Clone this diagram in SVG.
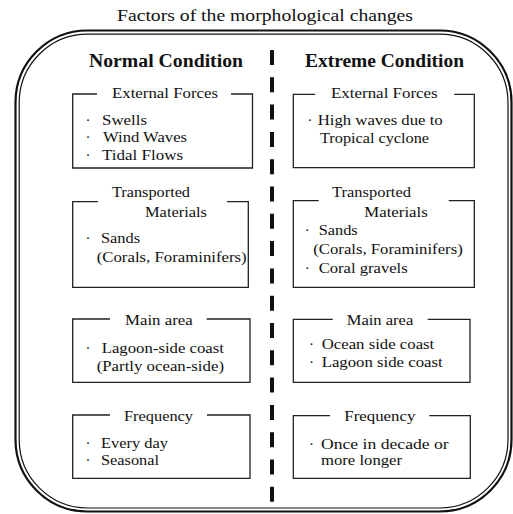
<svg xmlns="http://www.w3.org/2000/svg" width="513" height="514" viewBox="0 0 513 514">
<style>
.t{font-family:"Liberation Serif","Times New Roman",serif;font-size:15px;fill:#111}
.b{font-family:"Liberation Serif","Times New Roman",serif;font-size:18px;font-weight:bold;fill:#111}
.ttl{font-family:"Liberation Serif","Times New Roman",serif;font-size:17px;fill:#111}
.box{fill:none;stroke:#222;stroke-width:1.3}
</style>
<rect width="513" height="514" fill="#fff"/>
<text class="ttl" x="117" y="21" textLength="296" lengthAdjust="spacingAndGlyphs">Factors of the morphological changes</text>
<g id="frame" fill="none" stroke="#111">
<rect x="15.5" y="30.5" width="496" height="481" rx="72" ry="72" stroke-width="2.2"/>
<rect x="19.2" y="34.2" width="488.8" height="473.8" rx="68.5" ry="68.5" stroke-width="1.2"/>
</g>
<g id="divider">
<line x1="272" y1="50" x2="272" y2="502" stroke="#111" stroke-width="4" stroke-dasharray="15 12.3"/>
</g>
<g id="normal-heading"><text class="b" x="89" y="66.5" textLength="154" lengthAdjust="spacingAndGlyphs">Normal Condition</text></g>
<g id="extreme-heading"><text class="b" x="305" y="66.5" textLength="159" lengthAdjust="spacingAndGlyphs">Extreme Condition</text></g>

<g id="normal-forces">
<path class="box" d="M97 94H72.7V168H252.5V94H231"/>
<text class="t" x="112" y="98" textLength="106" lengthAdjust="spacingAndGlyphs">External Forces</text>
<text class="t" x="85.5" y="124.5">·</text>
<text class="t" x="102" y="124.5" textLength="45" lengthAdjust="spacingAndGlyphs">Swells</text>
<text class="t" x="85.5" y="142">·</text>
<text class="t" x="103" y="142" textLength="84" lengthAdjust="spacingAndGlyphs">Wind Waves</text>
<text class="t" x="85.5" y="160">·</text>
<text class="t" x="102" y="160" textLength="81" lengthAdjust="spacingAndGlyphs">Tidal Flows</text>
</g>

<g id="normal-materials">
<path class="box" d="M98 201.7H72.7V287.3H248.3V201.7H227"/>
<text class="t" x="112" y="197" textLength="78" lengthAdjust="spacingAndGlyphs">Transported</text>
<text class="t" x="145" y="216.5" textLength="62" lengthAdjust="spacingAndGlyphs">Materials</text>
<text class="t" x="85.5" y="243">·</text>
<text class="t" x="101" y="243" textLength="39" lengthAdjust="spacingAndGlyphs">Sands</text>
<text class="t" x="96.7" y="261.5" textLength="150" lengthAdjust="spacingAndGlyphs">(Corals, Foraminifers)</text>
</g>

<g id="normal-area">
<path class="box" d="M110 319H72.7V382.3H250V319H206.7"/>
<text class="t" x="125" y="325" textLength="67.7" lengthAdjust="spacingAndGlyphs">Main area</text>
<text class="t" x="85.5" y="353">·</text>
<text class="t" x="101.7" y="353" textLength="122.3" lengthAdjust="spacingAndGlyphs">Lagoon-side coast</text>
<text class="t" x="96.7" y="371" textLength="127.3" lengthAdjust="spacingAndGlyphs">(Partly ocean-side)</text>
</g>

<g id="normal-frequency">
<path class="box" d="M110 415H72.7V478.3H250V415H207"/>
<text class="t" x="124" y="420.5" textLength="69" lengthAdjust="spacingAndGlyphs">Frequency</text>
<text class="t" x="85.5" y="448">·</text>
<text class="t" x="101" y="448" textLength="67" lengthAdjust="spacingAndGlyphs">Every day</text>
<text class="t" x="85.5" y="465">·</text>
<text class="t" x="101" y="465" textLength="58" lengthAdjust="spacingAndGlyphs">Seasonal</text>
</g>

<g id="extreme-forces">
<path class="box" d="M315.3 94.3H293.3V167.7H474.3V94.3H454.3"/>
<text class="t" x="331" y="98" textLength="106.7" lengthAdjust="spacingAndGlyphs">External Forces</text>
<text class="t" x="307.5" y="124.5">·</text>
<text class="t" x="317.7" y="124.5" textLength="125" lengthAdjust="spacingAndGlyphs">High waves due to</text>
<text class="t" x="320" y="142.5" textLength="109" lengthAdjust="spacingAndGlyphs">Tropical cyclone</text>
</g>

<g id="extreme-materials">
<path class="box" d="M318.7 200.7H293.3V287.3H474.3V200.7H448.7"/>
<text class="t" x="332" y="197" textLength="79" lengthAdjust="spacingAndGlyphs">Transported</text>
<text class="t" x="364.3" y="216.5" textLength="63.4" lengthAdjust="spacingAndGlyphs">Materials</text>
<text class="t" x="304.8" y="235">·</text>
<text class="t" x="318.7" y="235" textLength="39" lengthAdjust="spacingAndGlyphs">Sands</text>
<text class="t" x="313.3" y="254" textLength="149.4" lengthAdjust="spacingAndGlyphs">(Corals, Foraminifers)</text>
<text class="t" x="304.8" y="272.7">·</text>
<text class="t" x="318.7" y="272.7" textLength="89" lengthAdjust="spacingAndGlyphs">Coral gravels</text>
</g>

<g id="extreme-area">
<path class="box" d="M332.7 319.3H293.3V382.3H470V319.3H427.7"/>
<text class="t" x="346.7" y="325" textLength="66.6" lengthAdjust="spacingAndGlyphs">Main area</text>
<text class="t" x="309" y="348.5">·</text>
<text class="t" x="321.7" y="348.5" textLength="112.6" lengthAdjust="spacingAndGlyphs">Ocean side coast</text>
<text class="t" x="309" y="366.7">·</text>
<text class="t" x="321.7" y="366.7" textLength="121" lengthAdjust="spacingAndGlyphs">Lagoon side coast</text>
</g>

<g id="extreme-frequency">
<path class="box" d="M330 415.7H293.3V478.3H470.3V415.7H429.3"/>
<text class="t" x="344.3" y="420.5" textLength="71" lengthAdjust="spacingAndGlyphs">Frequency</text>
<text class="t" x="309" y="449">·</text>
<text class="t" x="321" y="449" textLength="127.7" lengthAdjust="spacingAndGlyphs">Once in decade or</text>
<text class="t" x="321" y="465" textLength="81" lengthAdjust="spacingAndGlyphs">more longer</text>
</g>
</svg>
